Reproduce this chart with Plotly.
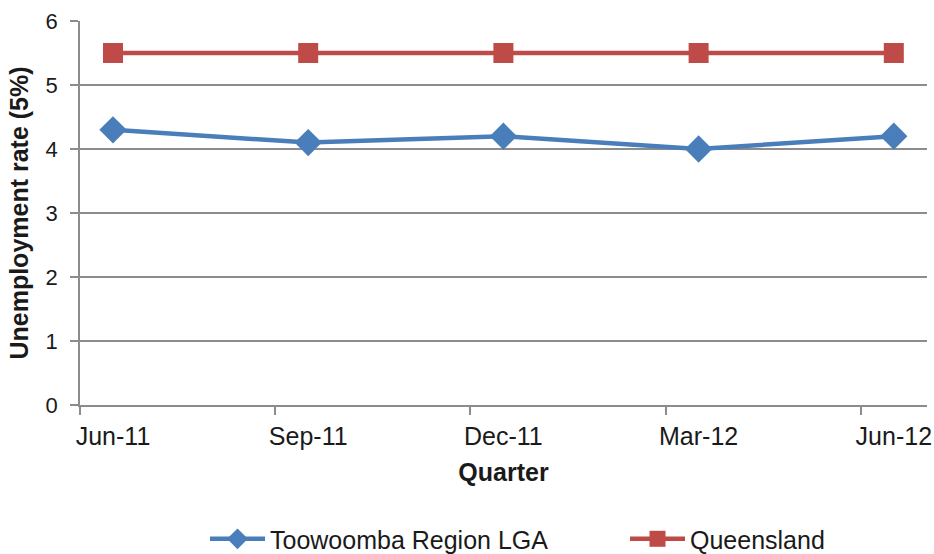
import plotly.graph_objects as go

# Quarterly unemployment rates (%)
quarters = ["Jun-11", "Sep-11", "Dec-11", "Mar-12", "Jun-12"]
toowoomba = [4.3, 4.1, 4.2, 4.0, 4.2]
queensland = [5.5, 5.5, 5.5, 5.5, 5.5]

positions = list(range(len(quarters)))
# tick marks sit just left of each data point; labels are shifted back under the points
tick_offset = 0.169

FONT = "Liberation Sans, Arial, sans-serif"
GRID = "#8c8c8c"

fig = go.Figure()
fig.add_trace(go.Scatter(
    x=positions, y=toowoomba, name="Toowoomba Region LGA",
    mode="lines+markers",
    line=dict(color="#4a7ebb", width=4.5),
    marker=dict(symbol="diamond", size=21, color="#4a7ebb"),
))
fig.add_trace(go.Scatter(
    x=positions, y=queensland, name="Queensland",
    mode="lines+markers",
    line=dict(color="#be4b48", width=4.5),
    marker=dict(symbol="square", size=20, color="#be4b48"),
))

fig.update_layout(
    width=934, height=554,
    margin=dict(l=80, r=7, t=21, b=149),
    paper_bgcolor="white", plot_bgcolor="white",
    font=dict(family=FONT, size=24, color="#1a1a1a"),
    showlegend=True,
    legend=dict(
        orientation="h", xref="container", yref="container",
        x=205 / 934, xanchor="left", y=0.027, yanchor="middle",
        font=dict(size=25), itemwidth=55, entrywidth=350, entrywidthmode="pixels",
        bgcolor="rgba(0,0,0,0)",
    ),
)
fig.update_xaxes(
    range=[-tick_offset, 4.17], automargin=False,
    tickvals=[p - tick_offset for p in positions], ticktext=quarters,
    ticklabelshift=33, ticklabelstandoff=0,
    showgrid=False, zeroline=False,
    showline=True, linecolor=GRID, linewidth=1.5,
    ticks="outside", ticklen=8, tickcolor=GRID, tickwidth=1.5,
    tickfont=dict(size=25),
    title=dict(text="<b>Quarter</b>", font=dict(size=25), standoff=15),
)
fig.update_yaxes(
    range=[0, 6], dtick=1, tick0=0, automargin=False,
    showgrid=True, gridcolor=GRID, gridwidth=1.5, zeroline=False,
    showline=True, linecolor=GRID, linewidth=1.5,
    ticks="outside", ticklen=8, tickcolor=GRID, tickwidth=1.5,
    tickfont=dict(size=22), ticklabelstandoff=8,
    title=dict(text="<b>Unemployment rate (5%)</b>", font=dict(size=25), standoff=10),
)

fig.write_html("out.html")
